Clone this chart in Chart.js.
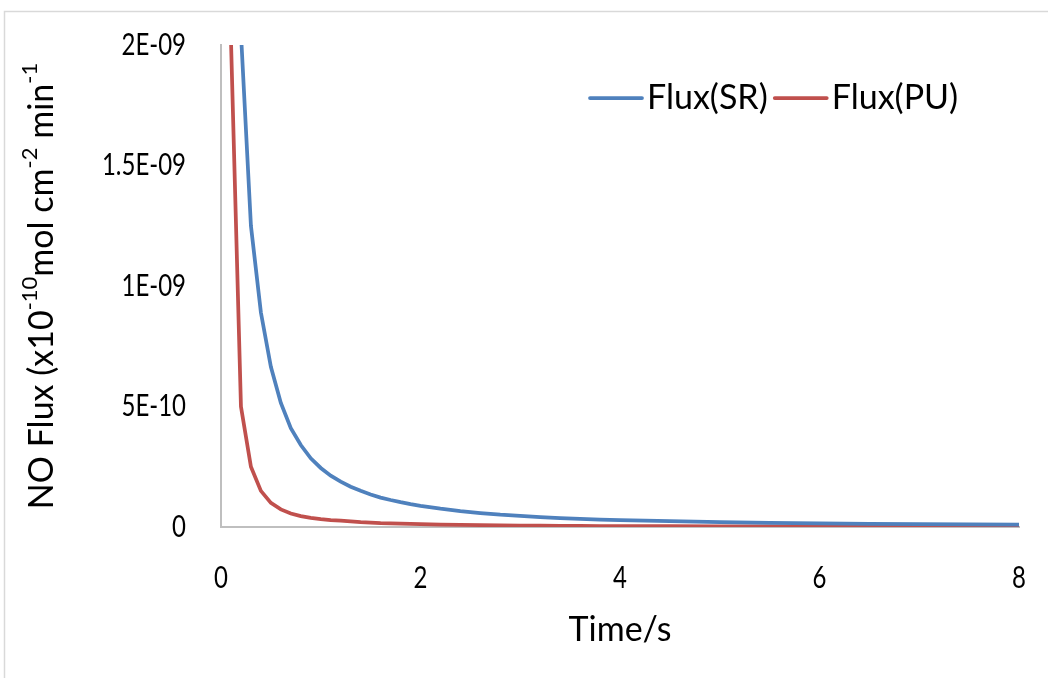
<!DOCTYPE html>
<html>
<head>
<meta charset="utf-8">
<script src="https://cdn.jsdelivr.net/npm/chart.js@4.4.1/dist/chart.umd.min.js"></script>
<style>
  html, body { margin: 0; padding: 0; background: #ffffff; }
  canvas { display: block; }
</style>
</head>
<body>
<canvas id="chart" width="1048" height="678"></canvas>
<script>
// Sampling times (s)
const times = [
  0.1, 0.2, 0.3, 0.4, 0.5, 0.6, 0.7, 0.8, 0.9, 1.0,
  1.1, 1.2, 1.3, 1.4, 1.5, 1.6, 1.7, 1.8, 1.9, 2.0,
  2.2, 2.4, 2.6, 2.8, 3.0, 3.2, 3.4, 3.6, 3.8, 4.0,
  4.5, 5.0, 5.5, 6.0, 6.5, 7.0, 7.5, 8.0
];

// NO flux, SR surface (mol cm^-2 min^-1)
const fluxSR = [
  44e-10, 20.5e-10, 12.5e-10, 8.9e-10, 6.65e-10, 5.15e-10, 4.1e-10, 3.4e-10, 2.85e-10, 2.45e-10,
  2.13e-10, 1.88e-10, 1.67e-10, 1.5e-10, 1.35e-10, 1.22e-10, 1.12e-10, 1.03e-10, 0.95e-10, 0.88e-10,
  0.76e-10, 0.66e-10, 0.58e-10, 0.51e-10, 0.46e-10, 0.41e-10, 0.37e-10, 0.34e-10, 0.31e-10, 0.29e-10,
  0.24e-10, 0.2e-10, 0.17e-10, 0.15e-10, 0.13e-10, 0.12e-10, 0.11e-10, 0.1e-10
];

// NO flux, PU surface (mol cm^-2 min^-1)
const fluxPU = [
  20.2e-10, 5.0e-10, 2.5e-10, 1.5e-10, 1.0e-10, 0.73e-10, 0.56e-10, 0.45e-10, 0.38e-10, 0.33e-10,
  0.29e-10, 0.26e-10, 0.23e-10, 0.2e-10, 0.18e-10, 0.16e-10, 0.15e-10, 0.14e-10, 0.13e-10, 0.12e-10,
  0.1e-10, 0.09e-10, 0.08e-10, 0.07e-10, 0.06e-10, 0.055e-10, 0.05e-10, 0.045e-10, 0.04e-10, 0.04e-10,
  0.035e-10, 0.03e-10, 0.025e-10, 0.02e-10, 0.02e-10, 0.015e-10, 0.015e-10, 0.01e-10
];

const seriesNames = ['Flux(SR)', 'Flux(PU)'];
const seriesColors = ['#4f81bd', '#c0504d'];

const xTitle = 'Time/s';
// Y title pieces; superscript pieces are raised and drawn smaller
const yTitleParts = [
  { text: 'NO Flux (x10', sup: false },
  { text: '-10', sup: true },
  { text: 'mol cm', sup: false },
  { text: '-2', sup: true },
  { text: ' min', sup: false },
  { text: '-1', sup: true }
];

const FONT = 'Lato, "Open Sans", sans-serif';
const TITLE_SIZE = 34;
const TICK_SIZE = 30;
const TICK_SQUEEZE = 0.8;   // tick numbers are set slightly condensed

// Plot rectangle on the canvas
const AREA = { left: 221, right: 1019, top: 45, bottom: 527 };

// Scientific labels in the style 2E-09, 1.5E-09, 5E-10
function sciLabel(v) {
  if (Math.abs(v) < 1e-20) return '0';
  let exp = Math.floor(Math.log10(Math.abs(v)) + 1e-9);
  let mant = Math.round(v / Math.pow(10, exp) * 100) / 100;
  if (Math.abs(mant) >= 10) { mant = Math.round(mant / 10 * 100) / 100; exp += 1; }
  const sign = exp < 0 ? '-' : '+';
  const e = String(Math.abs(exp)).padStart(2, '0');
  return mant + 'E' + sign + e;
}

function toPoints(values) {
  return times.map((t, i) => ({ x: t, y: values[i] }));
}

// Light frame around the figure
const framePlugin = {
  id: 'frame',
  beforeDraw(chart) {
    const ctx = chart.ctx;
    ctx.save();
    ctx.fillStyle = '#ffffff';
    ctx.fillRect(0, 0, chart.width, chart.height);
    ctx.strokeStyle = '#d9d9d9';
    ctx.lineWidth = 1.5;
    ctx.strokeRect(4.5, 11.5, chart.width + 20, chart.height + 20);
    ctx.restore();
  }
};

function drawCondensed(ctx, text, x, y, align) {
  ctx.save();
  ctx.translate(x, y);
  ctx.scale(TICK_SQUEEZE, 1);
  ctx.textAlign = align;
  ctx.fillText(text, 0, 0);
  ctx.restore();
}

// Tick numbers, placed from the scales' own ticks
const tickLabelPlugin = {
  id: 'tickLabels',
  afterDraw(chart) {
    const ctx = chart.ctx;
    const xs = chart.scales.x;
    const ys = chart.scales.y;
    ctx.save();
    ctx.fillStyle = '#000000';
    ctx.font = TICK_SIZE + 'px ' + FONT;
    ctx.textBaseline = 'middle';
    xs.ticks.forEach(t => {
      drawCondensed(ctx, String(t.value), xs.getPixelForValue(t.value), xs.top + 51, 'center');
    });
    ys.ticks.forEach(t => {
      drawCondensed(ctx, sciLabel(t.value), ys.right - 35, ys.getPixelForValue(t.value), 'right');
    });
    ctx.restore();
  }
};

// Axis titles, including superscripts on the y title
const titlesPlugin = {
  id: 'axisTitles',
  afterDraw(chart) {
    const ctx = chart.ctx;
    const area = chart.chartArea;
    ctx.save();
    ctx.fillStyle = '#000000';
    ctx.textBaseline = 'middle';

    ctx.font = TITLE_SIZE + 'px ' + FONT;
    ctx.textAlign = 'center';
    ctx.fillText(xTitle, (area.left + area.right) / 2, 630);

    const supSize = Math.round(TITLE_SIZE * 0.65);
    let total = 0;
    const widths = yTitleParts.map(p => {
      ctx.font = (p.sup ? supSize : TITLE_SIZE) + 'px ' + FONT;
      const w = ctx.measureText(p.text).width;
      total += w;
      return w;
    });
    ctx.translate(42, (area.top + area.bottom) / 2);
    ctx.rotate(-Math.PI / 2);
    ctx.textAlign = 'left';
    let x = -total / 2;
    yTitleParts.forEach((p, i) => {
      ctx.font = (p.sup ? supSize : TITLE_SIZE) + 'px ' + FONT;
      ctx.fillText(p.text, x, p.sup ? -12 : 0);
      x += widths[i];
    });
    ctx.restore();
  }
};

// Legend drawn inside the plot area, top right
const legendPlugin = {
  id: 'insideLegend',
  afterDraw(chart) {
    const ctx = chart.ctx;
    ctx.save();
    ctx.font = TITLE_SIZE + 'px ' + FONT;
    ctx.textBaseline = 'middle';
    ctx.textAlign = 'left';
    let x = 590;
    const y = 98;
    chart.data.datasets.forEach(ds => {
      ctx.strokeStyle = ds.borderColor;
      ctx.lineWidth = ds.borderWidth;
      ctx.lineCap = 'round';
      ctx.beginPath();
      ctx.moveTo(x, y);
      ctx.lineTo(x + 52, y);
      ctx.stroke();
      x += 57;
      ctx.fillStyle = '#000000';
      ctx.fillText(ds.label, x, y);
      x += ctx.measureText(ds.label).width + 7;
    });
    ctx.restore();
  }
};

new Chart(document.getElementById('chart'), {
  type: 'line',
  data: {
    datasets: [
      {
        label: seriesNames[0],
        data: toPoints(fluxSR),
        borderColor: seriesColors[0],
        backgroundColor: seriesColors[0],
        borderWidth: 3.75,
        pointRadius: 0,
        tension: 0,
        fill: false
      },
      {
        label: seriesNames[1],
        data: toPoints(fluxPU),
        borderColor: seriesColors[1],
        backgroundColor: seriesColors[1],
        borderWidth: 3.75,
        pointRadius: 0,
        tension: 0,
        fill: false
      }
    ]
  },
  options: {
    responsive: false,
    animation: false,
    devicePixelRatio: 1,
    layout: { autoPadding: false, padding: { top: AREA.top, right: 1048 - AREA.right, bottom: 0, left: 0 } },
    plugins: {
      legend: { display: false },
      title: { display: false },
      tooltip: { enabled: false }
    },
    scales: {
      x: {
        type: 'linear',
        min: 0,
        max: 8,
        grid: { display: false, drawTicks: false },
        border: { display: true, color: '#bfbfbf', width: 2 },
        ticks: { display: false, stepSize: 2 },
        afterFit(scale) {
          scale.height = 678 - AREA.bottom;
          scale.paddingLeft = 0;
          scale.paddingRight = 0;
        }
      },
      y: {
        type: 'linear',
        min: 0,
        max: 2e-9,
        grid: { display: false, drawTicks: false },
        border: { display: true, color: '#bfbfbf', width: 2 },
        ticks: { display: false, stepSize: 5e-10 },
        afterFit(scale) {
          scale.width = AREA.left;
          scale.paddingTop = 0;
          scale.paddingBottom = 0;
        }
      }
    }
  },
  plugins: [framePlugin, tickLabelPlugin, titlesPlugin, legendPlugin]
});
</script>
</body>
</html>
